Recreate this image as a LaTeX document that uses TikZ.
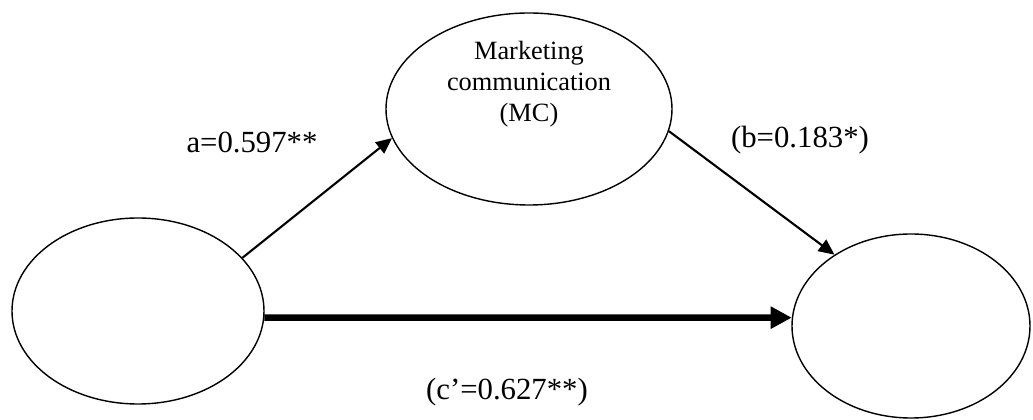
\documentclass[tikz,border=0pt]{standalone}
\usepackage{fontspec}
\setmainfont{Liberation Serif}
\usepackage{tikz}
\usetikzlibrary{arrows.meta, positioning, calc, shapes.geometric}

\begin{document}
\begin{tikzpicture}[
        var/.style={draw, ellipse, line width=0.8pt, inner sep=0pt},
        coef/.style={font=\fontsize{17.5}{20}\selectfont},
        arrow/.style={-{Triangle[length=9pt, width=8pt]}, line width=1.2pt},
        bigarrow/.style={-{Triangle[length=12pt, width=12pt]}, line width=3.8pt}
    ]
    \useasboundingbox (0,0) rectangle (20.66,8.4);
    \node[var, minimum width=5.04cm, minimum height=3.72cm] (pred) at (2.76,2.18) {};
    \node[var, minimum width=5.72cm, minimum height=3.84cm] (mc) at (10.58,6.22) {};
    \node[var, minimum width=4.76cm, minimum height=3.68cm] (out) at (18.22,1.88) {};
    \node[align=center, font=\fontsize{15}{17.6}\selectfont] (mctext) at ($(mc.center)+(0,0.5)$) {Marketing\\communication\\(MC)};
    \draw[arrow] (pred.27) -- (mc.192);
    \draw[arrow] (mc.351) -- (out.137);
    \draw[bigarrow] (pred.357) -- (out.176);
    \node[coef] (alab) at (5.04,5.56) {a=0.597**};
    \node[coef] (blab) at (16.0,5.6) {(b=0.183*)};
    \node[coef] (clab) at (10.14,0.56) {(c’=0.627**)};
\end{tikzpicture}
\end{document}
